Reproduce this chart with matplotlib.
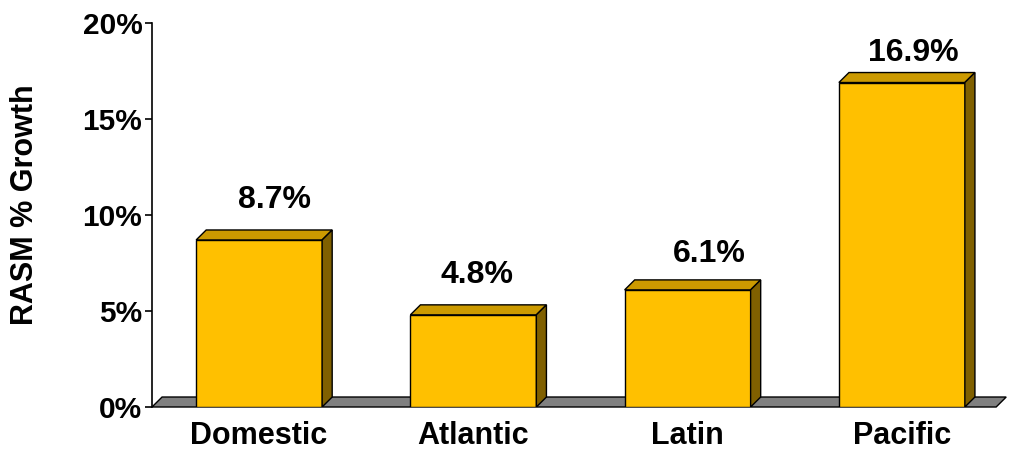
import matplotlib
matplotlib.use("Agg")
import matplotlib.pyplot as plt
from matplotlib.patches import Polygon

categories = ["Domestic", "Atlantic", "Latin", "Pacific"]
growth = [8.7, 4.8, 6.1, 16.9]
yticks = [0, 5, 10, 15, 20]
ytick_labels = ["0%", "5%", "10%", "15%", "20%"]

# hand-placed nudges for the value labels (pixels right / above the bar top)
label_nudge_x = [15.5, 4, 22, 11]
label_nudge_y = [32, 32, 28, 21.5]

FRONT = "#FFC000"
TOP = "#CC9A00"
SIDE = "#806000"
FLOOR = "#808080"

plt.rcParams["font.family"] = ["Liberation Sans", "DejaVu Sans"]
plt.rcParams["font.weight"] = "bold"

fig = plt.figure(figsize=(10.11, 4.53), dpi=100)
W, H = 1011, 453
ax = fig.add_axes([152 / W, 1 - 407 / H, (1009 - 152) / W, (407 - 23) / H])
ax.set_xlim(-0.5, 3.5)
ax.set_ylim(0, 20)

# depth offset of the pseudo-3D extrusion, in data units
dx = 0.047
dy = 0.52
width = 0.588

# floor slab
floor = Polygon([(-0.5, 0), (3.44, 0), (3.44 + dx, dy), (-0.5 + dx, dy)],
                closed=True, facecolor=FLOOR, edgecolor="black", lw=1.0,
                zorder=1, clip_on=False)
ax.add_patch(floor)

px2pt = 72 / fig.dpi
for i, v in enumerate(growth):
    x0 = i - width / 2
    x1 = i + width / 2
    ax.add_patch(Polygon([(x0, 0), (x1, 0), (x1, v), (x0, v)], closed=True,
                         facecolor=FRONT, edgecolor="black", lw=1.0, zorder=3))
    ax.add_patch(Polygon([(x0, v), (x1, v), (x1 + dx, v + dy), (x0 + dx, v + dy)],
                         closed=True, facecolor=TOP, edgecolor="black", lw=1.0, zorder=3))
    ax.add_patch(Polygon([(x1, 0), (x1 + dx, dy), (x1 + dx, v + dy), (x1, v)],
                         closed=True, facecolor=SIDE, edgecolor="black", lw=1.0, zorder=3))
    ax.annotate(f"{v:.1f}%", xy=(i, v),
                xytext=(label_nudge_x[i] * px2pt, label_nudge_y[i] * px2pt),
                textcoords="offset points", ha="center", va="baseline",
                fontsize=23, fontweight="bold", zorder=4)

for s in ["top", "right", "bottom"]:
    ax.spines[s].set_visible(False)
ax.spines["left"].set_linewidth(1.2)
ax.spines["left"].set_zorder(5)

ax.set_yticks(yticks)
ax.set_yticklabels(ytick_labels)
ax.tick_params(axis="y", direction="out", length=5, width=1.2, pad=2,
               labelsize=21.5)
ax.set_xticks(range(len(categories)))
ax.set_xticklabels(categories)
ax.tick_params(axis="x", length=0, pad=10, labelsize=22)
for lbl in ax.get_xticklabels() + ax.get_yticklabels():
    lbl.set_fontweight("bold")

fig.text(25 / W, 1 - 205 / H, "RASM % Growth", rotation=90, ha="center",
         va="center", fontsize=22, fontweight="bold")

fig.savefig("out.png", dpi=100, facecolor="white")
